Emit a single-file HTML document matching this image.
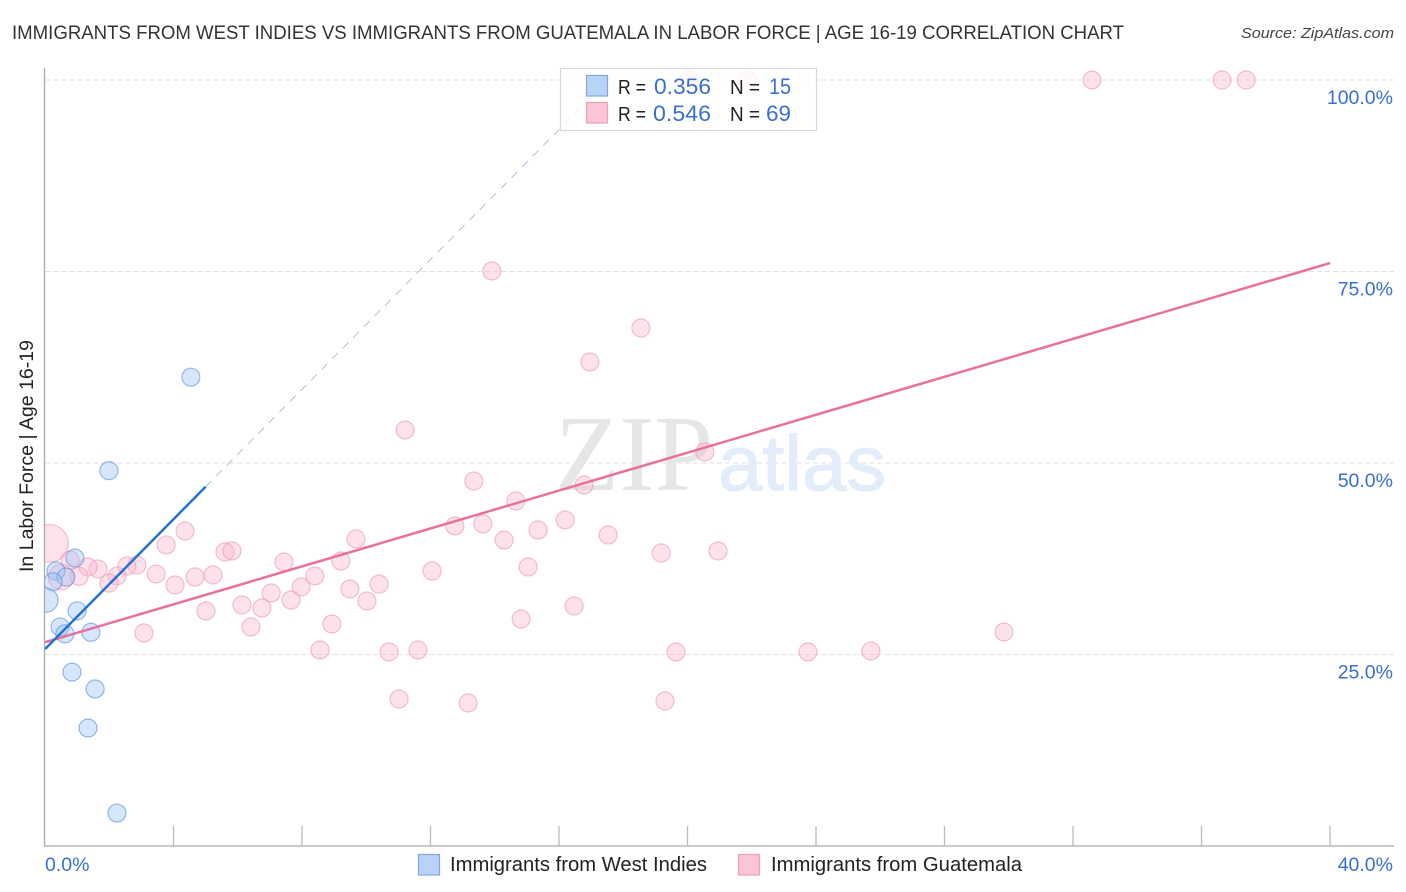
<!DOCTYPE html>
<html lang="en">
<head>
<meta charset="utf-8">
<title>Immigrants from West Indies vs Immigrants from Guatemala in Labor Force | Age 16-19 Correlation Chart</title>
<style>
html,body{margin:0;padding:0;background:#fff;width:1406px;height:892px;overflow:hidden}
svg{display:block;font-family:"Liberation Sans",sans-serif}
</style>
</head>
<body>
<svg id="chart" xmlns="http://www.w3.org/2000/svg" width="1406" height="892" viewBox="0 0 1406 892">
  <text x="12" y="39" font-size="19" fill="#333" textLength="1112" lengthAdjust="spacingAndGlyphs">IMMIGRANTS FROM WEST INDIES VS IMMIGRANTS FROM GUATEMALA IN LABOR FORCE | AGE 16-19 CORRELATION CHART</text>
  <text x="1394" y="38" font-size="15" font-style="italic" fill="#444" text-anchor="end" textLength="153" lengthAdjust="spacingAndGlyphs">Source: ZipAtlas.com</text>

  <g id="grid"></g>

  <g>
    <text x="555" y="490" font-family="'Liberation Serif',serif" font-size="108" fill="#e6e6e6" textLength="158" lengthAdjust="spacingAndGlyphs">ZIP</text>
    <text x="718" y="490" font-size="78" fill="#e3edf9" stroke="#e3edf9" stroke-width="1.2" textLength="168" lengthAdjust="spacingAndGlyphs">atlas</text>
  </g>

  <g id="points-guatemala"></g>
  <g id="points-westindies"></g>
  <rect x="0" y="500" width="44" height="130" fill="#fff"/>
  <text transform="translate(33,456) rotate(-90)" font-size="19" fill="#222" text-anchor="middle" textLength="232" lengthAdjust="spacingAndGlyphs">In Labor Force | Age 16-19</text>
  <g id="trends"></g>
  <g id="axes"></g>

  <g>
    <rect x="560.5" y="68.5" width="256" height="62" fill="#fff" fill-opacity="0.8" stroke="#d9d9d9" stroke-width="1.2"/>
    <rect x="586.5" y="75.5" width="21" height="20.5" fill="#b9d3f6" stroke="#7eaae2" stroke-width="1.2"/>
    <rect x="586.5" y="102.5" width="21" height="20.5" fill="#fcc5d7" stroke="#ee9dba" stroke-width="1.2"/>
    <g font-size="20">
      <text x="618" y="94" fill="#222" textLength="28" lengthAdjust="spacingAndGlyphs">R =</text>
      <text x="654" y="94" font-size="22" fill="#3a6fd0" textLength="57" lengthAdjust="spacingAndGlyphs">0.356</text>
      <text x="730" y="94" fill="#222" textLength="30" lengthAdjust="spacingAndGlyphs">N =</text>
      <text x="769" y="94" font-size="22" fill="#3a6fd0" textLength="22" lengthAdjust="spacingAndGlyphs">15</text>
      <text x="618" y="121" fill="#222" textLength="28" lengthAdjust="spacingAndGlyphs">R =</text>
      <text x="653" y="121" font-size="22" fill="#3a6fd0" textLength="58" lengthAdjust="spacingAndGlyphs">0.546</text>
      <text x="730" y="121" fill="#222" textLength="30" lengthAdjust="spacingAndGlyphs">N =</text>
      <text x="766" y="121" font-size="22" fill="#3a6fd0" textLength="25" lengthAdjust="spacingAndGlyphs">69</text>
    </g>
  </g>

  <g>
    <rect x="418.5" y="854.5" width="21" height="20.5" fill="#b9d3f6" stroke="#7eaae2" stroke-width="1.2"/>
    <text x="450" y="871" font-size="20" fill="#222" textLength="257" lengthAdjust="spacingAndGlyphs">Immigrants from West Indies</text>
    <rect x="738.5" y="854.5" width="21" height="20.5" fill="#fcc5d7" stroke="#ee9dba" stroke-width="1.2"/>
    <text x="771" y="871" font-size="20" fill="#222" textLength="251" lengthAdjust="spacingAndGlyphs">Immigrants from Guatemala</text>
  </g>
</svg>
<script>
var xTickValues = [0, 4, 8, 12, 16, 20, 24, 28, 32, 36, 40];
var xEndLabels = ['0.0%', '40.0%'];
var yGridValues = [25, 50, 75, 100];
var yTickLabels = ['25.0%', '50.0%', '75.0%', '100.0%'];

var westIndiesX = [4.54, 1.99, 0.93, 0.34, 0.65, 0.25, 0.03, 1.0, 0.47, 0.62, 1.43, 0.84, 1.56, 1.34, 2.24];
var westIndiesY = [61.2, 49.0, 37.6, 35.9, 35.1, 34.5, 32.1, 30.7, 28.6, 27.7, 27.9, 22.7, 20.5, 15.4, 4.3];
var westIndiesWeight = [1, 1, 1, 1, 1, 1, 1.8, 1, 1, 1, 1, 1, 1, 1, 1];

var guatemalaX = [32.59, 36.64, 37.39, 20.05, 21.88, 13.91, 18.55, 16.96, 11.21, 20.54, 13.35, 16.78, 14.66, 16.19, 12.76, 13.63, 15.35, 14.29, 17.53, 9.68, 4.36, 3.77, 5.6, 5.82, 19.18, 20.95, 7.44, 9.21, 15.04, 12.05, 5.23, 4.67, 3.46, 4.05, 2.86, 2.55, 2.24, 1.99, 1.65, 1.34, 1.06, 0.78, 0.5, 0.14, 8.4, 10.4, 7.97, 9.49, 7.04, 7.66, 10.02, 6.13, 6.75, 5.01, 16.47, 14.82, 8.93, 6.41, 3.08, 29.85, 8.56, 10.71, 11.61, 19.64, 23.75, 25.71, 11.02, 13.17, 19.3];
var guatemalaY = [100, 100, 100, 100, 100, 75.07, 67.62, 63.19, 54.31, 51.44, 47.65, 47.13, 45.04, 42.56, 41.78, 42.04, 41.25, 39.95, 40.6, 40.08, 41.12, 39.3, 38.38, 38.51, 38.25, 38.51, 37.08, 37.21, 36.42, 35.9, 35.38, 35.12, 35.51, 34.07, 36.68, 36.55, 35.25, 34.33, 36.16, 36.42, 35.2, 37.34, 35.1, 39.5, 35.25, 34.2, 33.81, 33.55, 33.03, 32.11, 31.98, 31.46, 31.07, 30.68, 31.33, 29.63, 28.98, 28.59, 27.81, 27.94, 25.59, 25.33, 25.59, 25.33, 25.33, 25.46, 19.19, 18.67, 18.93];
var guatemalaWeight = [1, 1, 1, 1, 1, 1, 1, 1, 1, 1, 1, 1, 1, 1, 1, 1, 1, 1, 1, 1, 1, 1, 1, 1, 1, 1, 1, 1, 1, 1, 1, 1, 1, 1, 1, 1, 1, 1, 1, 1, 1, 1, 2, 4.4, 1, 1, 1, 1, 1, 1, 1, 1, 1, 1, 1, 1, 1, 1, 1, 1, 1, 1, 1, 1, 1, 1, 1, 1, 1];

var westIndiesTrendX = [0, 5];
var westIndiesTrendY = [25.7, 46.9];
var westIndiesProjectionX = [5, 17.6];
var westIndiesProjectionY = [46.9, 100.3];
var guatemalaTrendX = [0, 40];
var guatemalaTrendY = [26.6, 76.1];

function xScale(v) { return 45 + v * 32.125; }
function yScale(v) { return 846 - v * 7.66; }
function radius(w) { return 9 * Math.sqrt(w); }

var NS = 'http://www.w3.org/2000/svg';
function make(tag, parent, attrs) {
  var el = document.createElementNS(NS, tag);
  for (var k in attrs) { el.setAttribute(k, attrs[k]); }
  parent.appendChild(el);
  return el;
}

var grid = document.getElementById('grid');
yGridValues.forEach(function (v, i) {
  var line = make('line', grid, { x1: 45, x2: 1394, y1: yScale(v), y2: yScale(v), stroke: '#e2e2e2', 'stroke-width': 1, 'stroke-dasharray': '5 3' });
  
  
  var label = make('text', grid, { x: 1393, y: yScale(v) + 24, 'text-anchor': 'end', 'font-size': 19.5, fill: '#3a6fd0' });
  
  
  label.textContent = yTickLabels[i];
});

function drawPoints(groupId, xs, ys, weights, fill, stroke) {
  var group = document.getElementById(groupId);
  xs.forEach(function (x, i) {
    var dot = make('circle', group, { cx: xScale(x), cy: yScale(ys[i]), r: radius(weights[i]), fill: fill, stroke: stroke, 'stroke-width': 1.2 });
    
    
  });
}
drawPoints('points-guatemala', guatemalaX, guatemalaY, guatemalaWeight, 'rgba(250,180,205,0.38)', 'rgba(235,150,180,0.6)');
drawPoints('points-westindies', westIndiesX, westIndiesY, westIndiesWeight, 'rgba(150,192,245,0.38)', 'rgba(90,145,220,0.62)');

var trends = document.getElementById('trends');
function drawLine(xs, ys, attrs) {
  var pts = { x1: xScale(xs[0]), y1: yScale(ys[0]), x2: xScale(xs[1]), y2: yScale(ys[1]) };
  for (var k in attrs) { pts[k] = attrs[k]; }
  return make('line', trends, pts);
}
var projection = drawLine(westIndiesProjectionX, westIndiesProjectionY, { stroke: '#a9b8d6', 'stroke-width': 0.9, 'stroke-dasharray': '8 7' });


var pinkTrend = drawLine(guatemalaTrendX, guatemalaTrendY, { stroke: '#e8709e', 'stroke-width': 2.5 });


var blueTrend = drawLine(westIndiesTrendX, westIndiesTrendY, { stroke: '#2272cf', 'stroke-width': 2.5 });



var axes = document.getElementById('axes');
var yAxis = make('line', axes, { x1: 44.5, x2: 44.5, y1: 68, y2: 846, stroke: '#aaa', 'stroke-width': 1.3 });


var xAxis = make('line', axes, { x1: 44, x2: 1394, y1: 846, y2: 846, stroke: '#aaa', 'stroke-width': 1.3 });


xTickValues.forEach(function (v) {
  if (v === 0) { return; }
  var tick = make('line', axes, { x1: xScale(v), x2: xScale(v), y1: 826, y2: 846, stroke: '#bbb', 'stroke-width': 1.3 });
  
  
});
var xStart = make('text', axes, { x: 45, y: 871, 'font-size': 19.5, fill: '#3a6fd0' });


xStart.textContent = xEndLabels[0];
var xEnd = make('text', axes, { x: 1393, y: 871, 'text-anchor': 'end', 'font-size': 19.5, fill: '#3a6fd0' });


xEnd.textContent = xEndLabels[1];
</script>
</body>
</html>
